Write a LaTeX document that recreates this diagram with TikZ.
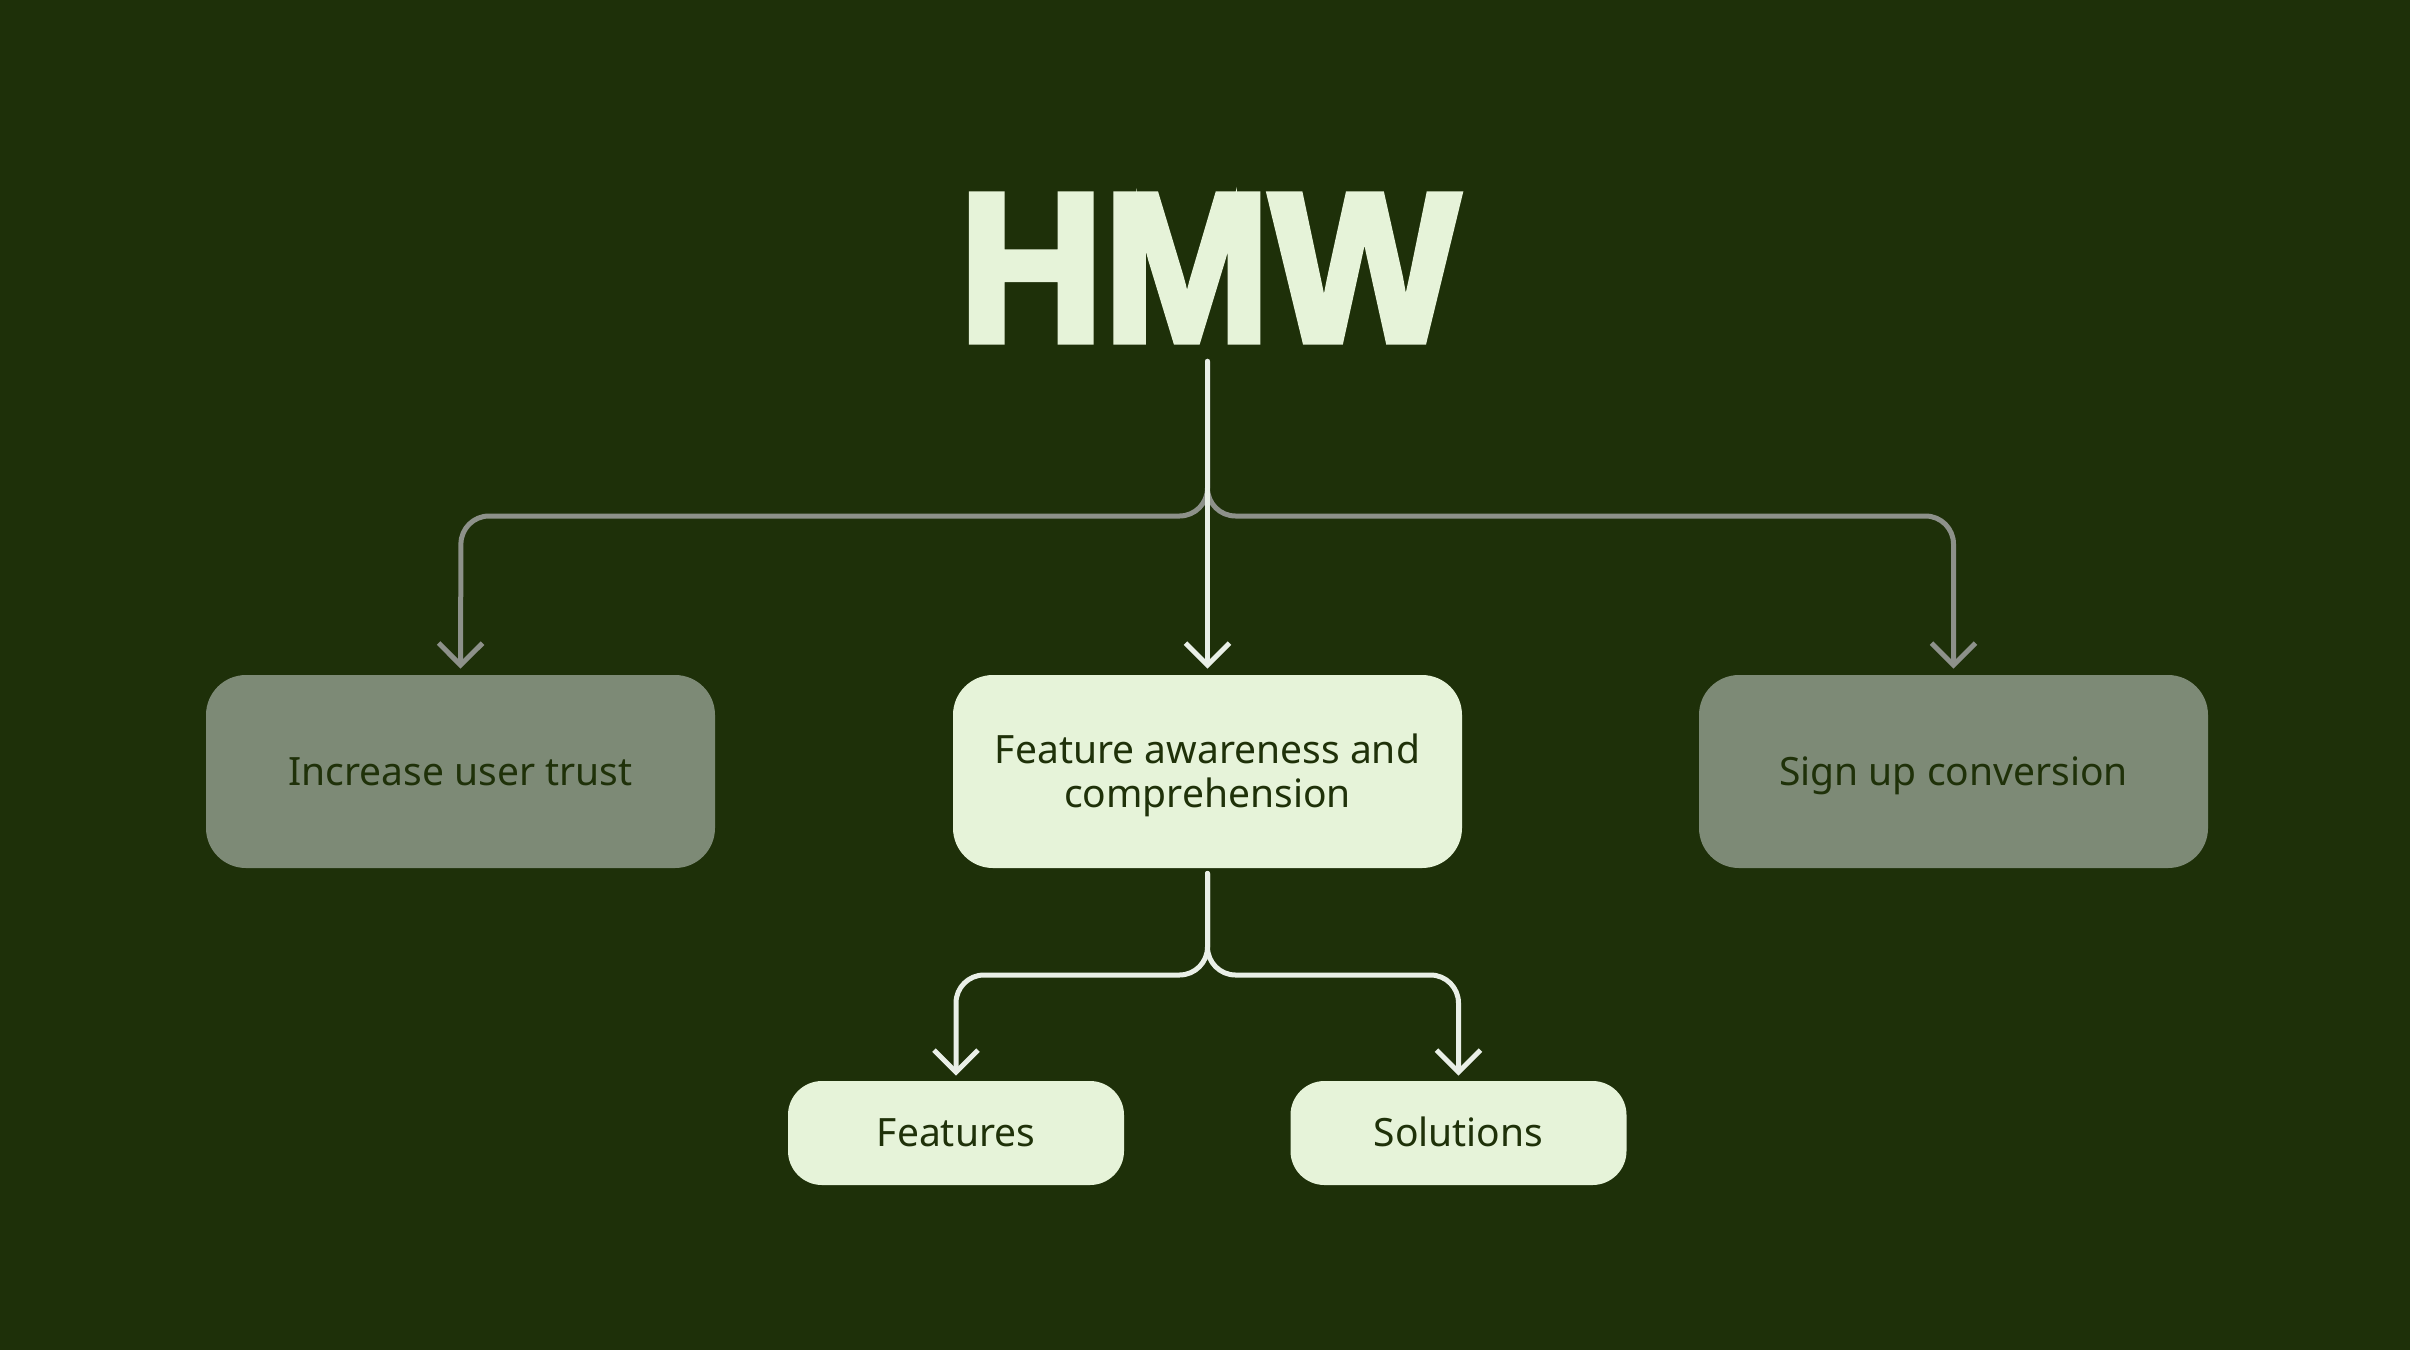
\documentclass[tikz,border=0pt]{standalone}
\usepackage{fontspec}
\setmainfont{Noto Sans}
\newfontfamily\hmwfont{Liberation Sans Bold}[FakeBold=3.5]
\usepackage{graphicx}
\usetikzlibrary{arrows.meta}
\definecolor{bg}{HTML}{1E3009}
\definecolor{lightbox}{HTML}{E6F3D9}
\definecolor{graybox}{HTML}{7D8A76}
\definecolor{graylink}{HTML}{8D918A}
\definecolor{whitelink}{HTML}{E9EFE7}
\definecolor{darktext}{HTML}{1F3109}
\tikzset{
  boxtext/.style={text=darktext, font=\fontsize{19.5}{22}\selectfont, text height=13.9pt, text depth=0pt},
  bigbox/.style={boxtext, rounded corners=20pt, minimum width=254.5pt, minimum height=96.5pt,
    inner sep=0pt, align=center},
  twoline/.style={text height=35.9pt, text depth=0pt},
  lightfill/.style={fill=lightbox},
  grayfill/.style={fill=graybox},
  smallbox/.style={boxtext, rounded corners=17pt, fill=lightbox, minimum width=168pt, minimum height=52pt,
    inner sep=0pt},
  link/.style={line width=2.5pt, line cap=round, line join=round, rounded corners=14pt,
    -{Straight Barb[length=11pt,width=22pt,line width=2.5pt]}},
  graylinkstyle/.style={link, draw=graylink},
  whitelinkstyle/.style={link, draw=whitelink},
}
\begin{document}
\begin{tikzpicture}[x=0.5pt,y=-0.5pt]
\fill[bg] (0,0) rectangle (2410,1350);
\useasboundingbox (0,0) rectangle (2410,1350);

\node[inner sep=0pt, text=lightbox] (hmw) at (1209,268)
  {\resizebox{250pt}{72.9pt}{\hmwfont HMW}};

\node[bigbox, grayfill] (left) at (460.5,771.5) {Increase user trust};
\node[bigbox, lightfill, twoline] (center) at (1207.5,771.5) {Feature awareness and\\comprehension};
\node[bigbox, grayfill] (right) at (1953.5,771.5) {Sign up conversion};

\node[smallbox] (feat) at (956,1133) {Features};
\node[smallbox] (sol) at (1458.5,1133) {Solutions};

\coordinate (hl) at (461,516);
\coordinate (hr) at (1953.5,516);
\coordinate (fl) at (956,975);
\coordinate (fr) at (1458.5,975);

\draw[graylinkstyle, shorten <=10pt, shorten >=3pt] (hmw.south -| center.north) |- (hl) -- (left.north);
\draw[graylinkstyle, shorten <=10pt, shorten >=3pt] (hmw.south -| center.north) |- (hr) -- (right.north);
\draw[whitelinkstyle, shorten <=10pt, shorten >=3pt] (hmw.south -| center.north) -- (center.north);

\draw[whitelinkstyle, shorten <=2.5pt, shorten >=2.5pt] (center.south) |- (fl) -- (feat.north);
\draw[whitelinkstyle, shorten <=2.5pt, shorten >=2.5pt] (center.south) |- (fr) -- (sol.north);
\end{tikzpicture}
\end{document}
